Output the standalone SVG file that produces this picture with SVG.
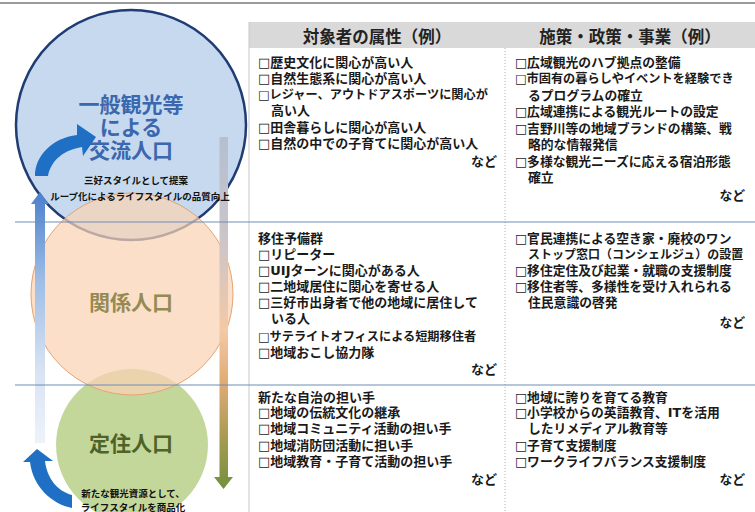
<svg xmlns="http://www.w3.org/2000/svg" width="755" height="512" viewBox="0 0 755 512">
<defs>
<style>
text{font-family:'Liberation Sans','Noto Sans CJK JP',sans-serif;font-weight:bold;}
.b,.b2{font-family:'DejaVu Sans','Noto Sans CJK JP',sans-serif;fill:#1a1a1a;}
.b{font-size:13px;}
.b2{font-size:12.8px;}
.n{font-size:12.2px;}
.h{font-size:16.5px;fill:#222;text-anchor:middle;}
.c{font-size:21px;text-anchor:middle;}
.s{font-size:9.5px;fill:#111;text-anchor:middle;}
.e{text-anchor:end;}
.row{stroke:#6d8cb6;stroke-width:1;}
.arr{fill:#1f6fc4;}
</style>
<linearGradient id="gL" x1="0" y1="0" x2="0" y2="1">
<stop offset="0" stop-color="#4a80cc"/>
<stop offset="0.35" stop-color="#9dbde6"/>
<stop offset="0.7" stop-color="#d6e2f3"/>
<stop offset="1" stop-color="#eef3fa"/>
</linearGradient>
<linearGradient id="gR" x1="0" y1="0" x2="0" y2="1">
<stop offset="0" stop-color="#b4bfd0"/>
<stop offset="0.3" stop-color="#cdc5c8"/>
<stop offset="0.55" stop-color="#f4c9a5"/>
<stop offset="0.7" stop-color="#e0aa74"/>
<stop offset="0.85" stop-color="#a99a55"/>
<stop offset="1" stop-color="#74903c"/>
</linearGradient>
</defs>
<rect x="0" y="0" width="755" height="512" fill="#ffffff"/>
<line x1="0" y1="3" x2="755" y2="3" stroke="#9a9a9a" stroke-width="2"/>

<g id="table-frame">
<rect x="249" y="22" width="506" height="26" fill="#d9d9d9"/>
<line x1="249" y1="22" x2="249" y2="512" stroke="#c8c8c8" stroke-width="1"/>
<line x1="505" y1="48" x2="505" y2="512" stroke="#b0b0b0" stroke-width="1" stroke-dasharray="1,2"/>
</g>

<g id="circle-kouryu">
<circle cx="131" cy="125" r="115" fill="#c6d9ee" stroke="#1f3c74" stroke-width="2.5"/>
</g>
<g id="circle-teiju">
<circle cx="132" cy="445" r="76" fill="#c4d79b"/>
</g>
<g id="circle-kankei">
<circle cx="132" cy="294" r="101" fill="#fad3b4" fill-opacity="0.72" stroke="#e4a372" stroke-width="1"/>
</g>

<g id="connectors">
<path d="M35,204 L31,204 L40,192 L49,204 L45,204 L45,443 L35,443 Z" fill="url(#gL)"/>
<path d="M219.5,137 L228,137 L228,477 L233,477 L223.5,489 L214,477 L219.5,477 Z" fill="url(#gR)"/>
<path class="arr" d="M35,176 C35,156 52,138 77,135 L77,124 L96,137 L83,156 L82,147 C64,150 51,160 48,176 Z"/>
<path class="arr" d="M72,508 C52,504 33,487 30,462 L23,462 L37,449 L53,461 L45,461 C47,478 57,491 72,495 Z"/>
</g>

<line class="row" x1="15" y1="222" x2="755" y2="222"/>
<line class="row" x1="15" y1="385" x2="755" y2="385"/>

<g id="label-kouryu">
<text class="c" x="131" y="112" fill="#3a67ad">一般観光等</text>
<text class="c" x="131" y="135" fill="#3a67ad">による</text>
<text class="c" x="131" y="158" fill="#3a67ad">交流人口</text>
<text class="s" x="136" y="183.5">三好スタイルとして提案</text>
<text class="s" x="140" y="199.5">ループ化によるライフスタイルの品質向上</text>
</g>
<g id="label-kankei">
<text class="c" x="131" y="309.5" fill="#948a54">関係人口</text>
</g>
<g id="label-teiju">
<text class="c" x="131" y="450.5" fill="#4f6228">定住人口</text>
<text class="s" x="133" y="496.5">新たな観光資源として、</text>
<text class="s" x="133" y="510.5">ライフスタイルを商品化</text>
</g>

<g id="header-attr"><text class="h" x="377" y="43">対象者の属性（例）</text></g>
<g id="header-policy"><text class="h" x="630" y="43">施策・政策・事業（例）</text></g>

<g id="cell-attr-kouryu">
<text class="b" x="258" y="67">□歴史文化に関心が高い人</text>
<text class="b" x="258" y="83">□自然生態系に関心が高い人</text>
<text class="b n" x="258" y="99">□レジャー、アウトドアスポーツに関心が</text>
<text class="b" x="271" y="115">高い人</text>
<text class="b" x="258" y="131.5">□田舎暮らしに関心が高い人</text>
<text class="b" x="258" y="147.5">□自然の中での子育てに関心が高い人</text>
<text class="b e" x="497" y="165.5">など</text>
</g>
<g id="cell-policy-kouryu">
<text class="b2" x="515" y="66.5">□広域観光のハブ拠点の整備</text>
<text class="b2 n" x="515" y="83">□市固有の暮らしやイベントを経験でき</text>
<text class="b2" x="528" y="99.5">るプログラムの確立</text>
<text class="b2" x="515" y="116">□広域連携による観光ルートの設定</text>
<text class="b2" x="515" y="132.5">□吉野川等の地域ブランドの構築、戦</text>
<text class="b2" x="528" y="149">略的な情報発信</text>
<text class="b2" x="515" y="165.5">□多様な観光ニーズに応える宿泊形態</text>
<text class="b2" x="528" y="182">確立</text>
<text class="b2 e" x="745" y="199.5">など</text>
</g>

<g id="cell-attr-kankei">
<text class="b" x="258" y="242.5">移住予備群</text>
<text class="b" x="258" y="258.5">□リピーター</text>
<text class="b" x="258" y="274.5">□UIJターンに関心がある人</text>
<text class="b" x="258" y="290.5">□二地域居住に関心を寄せる人</text>
<text class="b" x="258" y="306.5">□三好市出身者で他の地域に居住して</text>
<text class="b" x="271" y="322.5">いる人</text>
<text class="b n" x="258" y="341">□サテライトオフィスによる短期移住者</text>
<text class="b" x="258" y="357">□地域おこし協力隊</text>
<text class="b e" x="497" y="374">など</text>
</g>
<g id="cell-policy-kankei">
<text class="b2" x="515" y="242.5">□官民連携による空き家・廃校のワン</text>
<text class="b2" x="528" y="258.5" style="font-size:12px">ストップ窓口（コンシェルジュ）の設置</text>
<text class="b2" x="515" y="274.5">□移住定住及び起業・就職の支援制度</text>
<text class="b2" x="515" y="290.5">□移住者等、多様性を受け入れられる</text>
<text class="b2" x="528" y="306.5">住民意識の啓発</text>
<text class="b2 e" x="745" y="326.5">など</text>
</g>

<g id="cell-attr-teiju">
<text class="b" x="258" y="401.5">新たな自治の担い手</text>
<text class="b" x="258" y="417">□地域の伝統文化の継承</text>
<text class="b" x="258" y="433">□地域コミュニティ活動の担い手</text>
<text class="b" x="258" y="449.5">□地域消防団活動に担い手</text>
<text class="b" x="258" y="466">□地域教育・子育て活動の担い手</text>
<text class="b e" x="497" y="484">など</text>
</g>
<g id="cell-policy-teiju">
<text class="b2" x="515" y="401.5">□地域に誇りを育てる教育</text>
<text class="b2" x="515" y="417">□小学校からの英語教育、ITを活用</text>
<text class="b2" x="528" y="433">したリメディアル教育等</text>
<text class="b2" x="515" y="449.5">□子育て支援制度</text>
<text class="b2" x="515" y="466">□ワークライフバランス支援制度</text>
<text class="b2 e" x="745" y="484">など</text>
</g>
</svg>
